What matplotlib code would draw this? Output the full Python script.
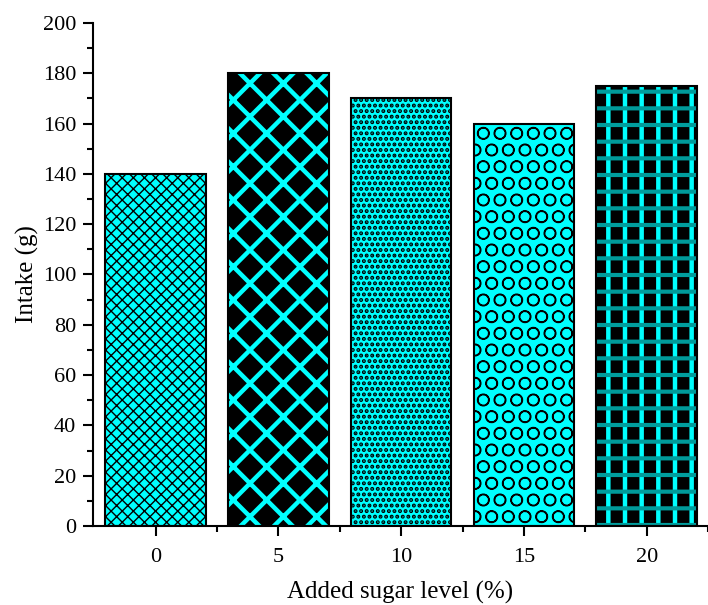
import numpy as np
import matplotlib.pyplot as plt
from matplotlib.ticker import MultipleLocator

plt.rcParams['font.family'] = ['Liberation Serif', 'DejaVu Serif']

# data
levels = ['0', '5', '10', '15', '20']
intake = [140, 180, 170, 160, 175]

# fill layers per bar: (face, pattern colour, hatch, hatch line width)
styles = [
    [('#00FFFF', 'black', 'xxx', 1.0)],
    [('black', '#00FFFF', 'x', 3.2)],
    [('#00FFFF', 'black', '...', 2.0)],
    [('#00FFFF', 'black', 'O', 1.0)],
    [('black', '#00FFFF', '|', 3.2), ('none', '#009C9C', '-', 3.0)],
]

fig = plt.figure(figsize=(7.08, 6.05), dpi=100)
ax = fig.add_axes([0.1314, 0.1306, 0.8686, 0.8314])

x = np.arange(len(levels))
width = 0.82
for i in range(len(levels)):
    for face, pcol, hatch, hlw in styles[i]:
        b = ax.bar(x[i], intake[i], width, color=face, edgecolor=pcol,
                   linewidth=0, hatch=hatch)
        try:
            b[0].set_hatch_linewidth(hlw)
        except AttributeError:
            pass
    ax.bar(x[i], intake[i], width, fill=False, edgecolor='black', linewidth=1.5)

# right end cuts the last bar like the original
ax.set_xlim(-0.51, 4.41)
ax.set_ylim(0, 200)
ax.set_xticks(x)
ax.set_xticklabels(levels)
ax.set_xticks(x + 0.5, minor=True)
ax.yaxis.set_major_locator(MultipleLocator(20))
ax.yaxis.set_minor_locator(MultipleLocator(10))

for s in ['top', 'right']:
    ax.spines[s].set_visible(False)
for s in ['left', 'bottom']:
    ax.spines[s].set_linewidth(1.5)

ax.tick_params(which='major', direction='out', length=7, width=1.5, labelsize=16, pad=5)
ax.tick_params(which='minor', direction='out', length=4, width=1.5)
ax.tick_params(axis='x', which='major', pad=9)

ax.set_xlabel('Added sugar level (%)', fontsize=18, labelpad=10)
ax.set_ylabel('Intake (g)', fontsize=18, labelpad=3)

fig.savefig('out.png', dpi=100)
